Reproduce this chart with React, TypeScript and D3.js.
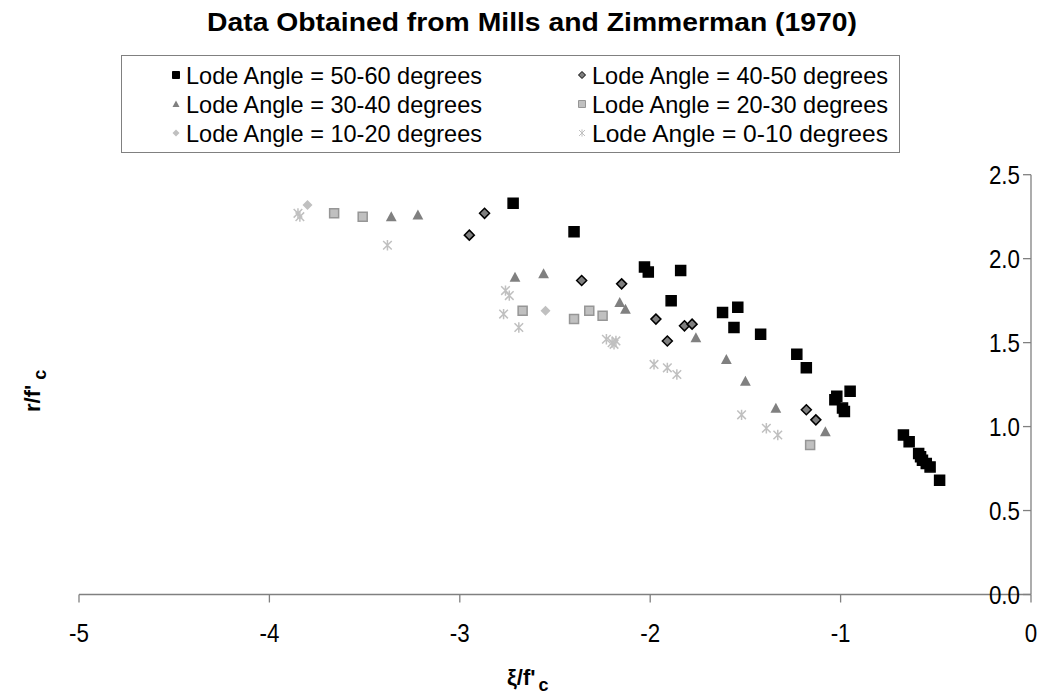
import React, { useEffect, useRef } from "react";
import * as d3 from "d3";

// series values: [xi/f'c, r/f'c]
const lode5060 = [
  [-2.72, 2.33], [-2.4, 2.16], [-2.03, 1.95], [-2.01, 1.92], [-1.84, 1.93],
  [-1.89, 1.75], [-1.62, 1.68], [-1.54, 1.71], [-1.56, 1.59], [-1.42, 1.55],
  [-1.23, 1.43], [-1.18, 1.35], [-1.03, 1.16], [-1.02, 1.18], [-0.95, 1.21],
  [-0.99, 1.11], [-0.98, 1.09], [-0.67, 0.95], [-0.64, 0.91], [-0.59, 0.84],
  [-0.58, 0.82], [-0.57, 0.8], [-0.55, 0.78], [-0.53, 0.76], [-0.48, 0.68],
];
const lode4050 = [
  [-2.87, 2.27], [-2.95, 2.14], [-2.36, 1.87], [-2.15, 1.85], [-1.97, 1.64],
  [-1.91, 1.51], [-1.82, 1.6], [-1.78, 1.61], [-1.18, 1.1], [-1.13, 1.04],
];
const lode3040 = [
  [-3.36, 2.25], [-3.22, 2.26], [-2.71, 1.89], [-2.56, 1.91], [-2.16, 1.74],
  [-2.13, 1.7], [-1.76, 1.53], [-1.6, 1.4], [-1.5, 1.27], [-1.34, 1.11],
  [-1.08, 0.97],
];
const lode2030 = [
  [-3.66, 2.27], [-3.51, 2.25], [-2.67, 1.69], [-2.4, 1.64], [-2.32, 1.69],
  [-2.25, 1.66], [-1.16, 0.89],
];
const lode1020 = [[-3.8, 2.32], [-2.55, 1.69]];
const lode010 = [
  [-3.85, 2.27], [-3.84, 2.25], [-3.38, 2.08], [-2.76, 1.81], [-2.74, 1.78],
  [-2.77, 1.67], [-2.69, 1.59], [-2.23, 1.52], [-2.2, 1.5], [-2.18, 1.51],
  [-2.19, 1.49], [-1.98, 1.37], [-1.91, 1.35], [-1.86, 1.31], [-1.52, 1.07],
  [-1.39, 0.99], [-1.33, 0.95],
];

const xTicks = [-5, -4, -3, -2, -1, 0];
const yTicks = [0, 0.5, 1, 1.5, 2, 2.5];

const series = [
  { label: "Lode Angle = 50-60 degrees", data: lode5060, shape: "square", fill: "#000", stroke: "#000" },
  { label: "Lode Angle = 40-50 degrees", data: lode4050, shape: "diamond", fill: "#7f7f7f", stroke: "#000" },
  { label: "Lode Angle = 30-40 degrees", data: lode3040, shape: "triangle", fill: "#808080", stroke: "none" },
  { label: "Lode Angle = 20-30 degrees", data: lode2030, shape: "square", fill: "#c0c0c0", stroke: "#969696" },
  { label: "Lode Angle = 10-20 degrees", data: lode1020, shape: "diamond", fill: "#c0c0c0", stroke: "none" },
  { label: "Lode Angle = 0-10 degrees", data: lode010, shape: "star", fill: "none", stroke: "#c0c0c0" },
];

// marker path centred on 0,0 with half size r
const markerPath = (shape, r) => {
  const p = d3.path();
  if (shape === "square") {
    p.rect(-r, -r, 2 * r, 2 * r);
  } else if (shape === "diamond") {
    p.moveTo(0, -r); p.lineTo(r, 0); p.lineTo(0, r); p.lineTo(-r, 0); p.closePath();
  } else if (shape === "triangle") {
    p.moveTo(0, -r); p.lineTo(r, r * 0.85); p.lineTo(-r, r * 0.85); p.closePath();
  } else {
    p.moveTo(-r, -r); p.lineTo(r, r);
    p.moveTo(r, -r); p.lineTo(-r, r);
    p.moveTo(0, -r * 1.2); p.lineTo(0, r * 1.2);
  }
  return p.toString();
};

const App = () => {
  const svgRef = useRef();

  useEffect(() => {
    document.body.style.margin = "0";
    const width = 1044, height = 696;
    const svg = d3.select(svgRef.current).attr("width", width).attr("height", height);
    svg.selectAll("*").remove();

    const font = "Liberation Sans, Arial, sans-serif";
    const x = d3.scaleLinear().domain([-5, 0]).range([79, 1031]);
    const y = d3.scaleLinear().domain([0, 2.5]).range([594.5, 174.7]);

    // title
    svg.append("text")
      .attr("x", 532).attr("y", 31)
      .attr("text-anchor", "middle")
      .attr("font-family", font).attr("font-weight", "bold").attr("font-size", 25)
      .attr("textLength", 650).attr("lengthAdjust", "spacingAndGlyphs")
      .text("Data Obtained from Mills and Zimmerman (1970)");

    // legend
    const lg = svg.append("g");
    lg.append("rect")
      .attr("x", 121.5).attr("y", 55.5).attr("width", 778).attr("height", 97)
      .attr("fill", "#fff").attr("stroke", "#808080").attr("stroke-width", 1);
    series.forEach((s, i) => {
      const col = i % 2, row = Math.floor(i / 2);
      const mx = col === 0 ? 176 : 582;
      const my = 75 + row * 29;
      lg.append("path")
        .attr("transform", `translate(${mx},${my})`)
        .attr("d", markerPath(s.shape, s.shape === "star" ? 3 : 3.5))
        .attr("fill", s.fill).attr("stroke", s.stroke).attr("stroke-width", 1);
      lg.append("text")
        .attr("x", mx + 10).attr("y", my + 8.5)
        .attr("font-family", font).attr("font-size", 24)
        .attr("textLength", 296).attr("lengthAdjust", "spacingAndGlyphs")
        .text(s.label);
    });

    // axes
    const axisColor = "#808080";
    svg.append("line")
      .attr("x1", x(-5)).attr("x2", x(0)).attr("y1", y(0)).attr("y2", y(0))
      .attr("stroke", axisColor).attr("stroke-width", 1.3);
    svg.append("line")
      .attr("x1", x(0)).attr("x2", x(0)).attr("y1", y(0)).attr("y2", y(2.5))
      .attr("stroke", axisColor).attr("stroke-width", 1.3);

    svg.append("g").selectAll("line").data(xTicks).join("line")
      .attr("x1", d => x(d)).attr("x2", d => x(d))
      .attr("y1", y(0)).attr("y2", y(0) + 8)
      .attr("stroke", axisColor).attr("stroke-width", 1.3);
    // tick labels are slightly condensed in the original
    svg.append("g").selectAll("text").data(xTicks).join("text")
      .attr("transform", d => `translate(${x(d)},642) scale(0.86,1)`)
      .attr("text-anchor", "middle")
      .attr("font-family", font).attr("font-size", 26)
      .text(d => d3.format("d")(d).replace("−", "-"));

    svg.append("g").selectAll("line").data(yTicks).join("line")
      .attr("x1", x(0) - 8).attr("x2", x(0))
      .attr("y1", d => y(d)).attr("y2", d => y(d))
      .attr("stroke", axisColor).attr("stroke-width", 1.3);
    svg.append("g").selectAll("text").data(yTicks).join("text")
      .attr("transform", d => `translate(1020,${y(d) + 9}) scale(0.86,1)`)
      .attr("text-anchor", "end")
      .attr("font-family", font).attr("font-size", 26)
      .text(d => d3.format(".1f")(d));

    // axis titles
    const xt = svg.append("text")
      .attr("x", 507).attr("y", 685)
      .attr("font-family", font).attr("font-weight", "bold").attr("font-size", 22);
    xt.append("tspan").text("ξ/f'");
    xt.append("tspan").attr("dy", 6).attr("dx", 3).attr("font-size", 18).text("c");

    const yt = svg.append("text")
      .attr("transform", "translate(40,412) rotate(-90)")
      .attr("font-family", font).attr("font-weight", "bold").attr("font-size", 22);
    yt.append("tspan").text("r/f'");
    yt.append("tspan").attr("dy", 6).attr("dx", 5).attr("font-size", 18).text("c");

    // points, drawn lightest series first so dark marks stay on top
    const sizes = { square: 5, diamond: 5, triangle: 5.4, star: 4.3 };
    [...series].reverse().forEach(s => {
      svg.append("g").selectAll("path").data(s.data).join("path")
        .attr("transform", d => `translate(${x(d[0])},${y(d[1])})`)
        .attr("d", markerPath(s.shape, s.fill === "#c0c0c0" && s.shape === "square" ? 4.5 : sizes[s.shape]))
        .attr("fill", s.fill)
        .attr("stroke", s.stroke)
        .attr("stroke-width", 1.5);
    });
  }, []);

  return <svg ref={svgRef}></svg>;
};

export default App;
